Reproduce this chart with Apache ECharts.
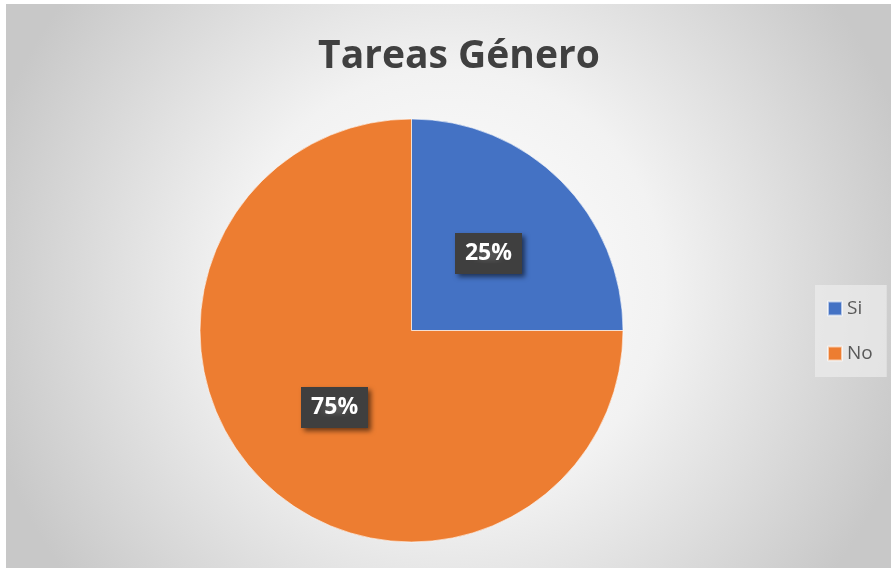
<!DOCTYPE html>
<html>
<head>
<meta charset="utf-8">
<script src="https://cdn.jsdelivr.net/npm/echarts@6/dist/echarts.min.js"></script>
<style>
html,body{margin:0;padding:0;background:#fff;}
#c{width:891px;height:568px;}
</style>
</head>
<body>
<div id="c"></div>
<script>
var titleText = 'Tareas Género';
var categories = ['Si', 'No'];
var values = [25, 75];
var colors = ['#4472C4', '#ED7D31'];

var pat = document.createElement('canvas');
pat.width = 6; pat.height = 6;
var pc = pat.getContext('2d');
pc.fillStyle = '#3f3f3f'; pc.fillRect(0, 0, 6, 6);
pc.fillStyle = '#545454'; pc.fillRect(2, 2, 2, 2);

var chart = echarts.init(document.getElementById('c'), null, {renderer: 'canvas'});
chart.setOption({
  animation: false,
  graphic: [{
    type: 'rect', z: -10, silent: true,
    shape: {x: 6, y: 4, width: 885, height: 564},
    style: {
      fill: new echarts.graphic.RadialGradient(0.5, 0.5, 0.85, [
        {offset: 0, color: '#ffffff'},
        {offset: 0.45, color: '#f2f2f2'},
        {offset: 1, color: '#c8c8c8'}
      ])
    }
  }],
  title: {
    text: titleText,
    left: 454, top: 32, textAlign: 'center',
    textStyle: {fontFamily: 'Open Sans', fontWeight: 'bold', fontSize: 39, color: '#404040'}
  },
  legend: {
    orient: 'vertical',
    left: 815, top: 285,
    itemWidth: 14, itemHeight: 14, itemGap: 26,
    icon: 'rect',
    data: categories,
    backgroundColor: 'rgba(236,236,236,0.7)',
    padding: [14, 14, 14, 12],
    textStyle: {fontFamily: 'Open Sans', fontSize: 19, color: '#595959'}
  },
  series: [{
    type: 'pie',
    center: [411.5, 330.5],
    radius: 211.5,
    startAngle: 90,
    clockwise: true,
    data: categories.map(function (c, i) {
      return {name: c, value: values[i], itemStyle: {color: colors[i]}};
    }),
    itemStyle: {borderColor: 'rgba(255,255,255,0.6)', borderWidth: 1},
    label: {
      position: 'inner',
      formatter: function (p) { return Math.round(p.percent) + '%'; },
      fontFamily: 'Open Sans', fontWeight: 'bold', fontSize: 23, color: '#ffffff',
      backgroundColor: {image: pat},
      padding: [10, 10, 8, 10],
      shadowColor: 'rgba(0,0,0,0.55)', shadowBlur: 5, shadowOffsetX: 3, shadowOffsetY: 3
    },
    labelLine: {show: false},
    emphasis: {disabled: true}
  }]
});
</script>
</body>
</html>
